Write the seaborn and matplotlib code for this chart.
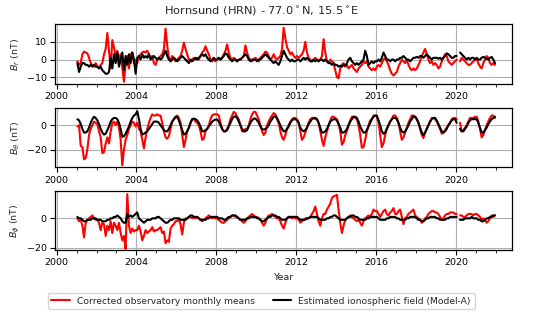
import numpy as np
import pandas as pd
import matplotlib
matplotlib.use("Agg")
import matplotlib.pyplot as plt
from matplotlib.ticker import MultipleLocator
import seaborn as sns

nan = np.nan
years = list(range(2001, 2022))

# Panel 1: B_r (nT) -- corrected observatory monthly means
br_obs = [
    -1, -3, -2, 3, 4.5, 4, 3.5, 1, -2, -3, -4, -2,          # 2001
    -4, -5, -3, -2, 3, 6, 15, 5, -5, 11, 7, 2,              # 2002
    5, 0, 3, -5, -12.5, -3, 2, -5, 3, 4, -2, 0,             # 2003
    -2, 2, 3, 4, 4.5, 4, 5, 3, 1, 2, -2, -3,                # 2004
    0, 1, 2, 3, 6, 17.5, 8, 1, 0, 2, 1, -1,                 # 2005
    0, 1, 2, 5, 9.5, 6, 3, 0, -1, 0, 1, 0,                  # 2006
    1, 0, 2, 4, 5, 7.5, 5, 3, 0, -1, 0, -1,                 # 2007
    0, 1, 0, 1, 3, 5, 8.5, 4, 1, 0, 1, 0,                   # 2008
    -1, 0, 0, 1, 2, 8, 4, 1, 0, -1, 0, 1,                   # 2009
    0, -1, 1, 2, 3, 4.5, 4, 2, 0, 1, 3, 1,                  # 2010
    0, 1, 2, 6, 18, 12, 7, 5, 3, 4, 2, 1,                   # 2011
    2, 1, 2, 3, 5, 10, 4, 1, 0, -1, 0, 1,                   # 2012
    0, -1, 0, 2, 11.5, 4, -1, -2, 0, -1, -2, -6,            # 2013
    -10, -10.5, -5, -3, -2, -4, -3, -5, -4, -3, -5, -6,     # 2014
    -7, -5, -4, -3, -1, -2, -1, -4, -5, -6, -5, -6,         # 2015
    -4, -3, -4, -2, 0, 1, -1, -3, -6, -8, -9, -8,           # 2016
    -7, -4, -2, 0, -1, -2, 0, -3, -5, -6, -5, -6,           # 2017
    -5, -3, -1, 2, 4, 6, 3, 0, -2, -1, -3, -2,              # 2018
    -3, -5, -4, -1, 1, 3, 2, -1, -2, -3, -2, -1,            # 2019
    0, nan, -1, 1, 0, -1, -2, -3, -3, -2, -1, 0,            # 2020
    0, -2, -4, -5, -2, 0, 2, 1, -2, -3, -2, -3,             # 2021
]
# Panel 1: B_r (nT) -- estimated ionospheric field (Model-A)
br_ion = [
    -2, -7, -4, -2, -2, -3, -3, -4, -3, -4, -3, -4,         # 2001
    -4, -5, -4, -6, -7, -8, -8, -7, 1, -5, 3, -2,           # 2002
    4, -4, 0, 4, -6, 2, -3, 3, -2, 4, 0, -8,                # 2003
    1, 2, 0, 3, 1, 2, 1, 3, 0, 1, 2, 1,                     # 2004
    0, 1, 0, 1, 3, 5, 2, 0, -1, 0, 1, 0,                    # 2005
    -1, 0, 1, 2, 1, 0, -1, -2, 0, -1, 0, 1,                 # 2006
    0, 1, 2, 3, 2, 3, 1, 0, -1, 0, 1, 0,                    # 2007
    0, 1, 0, 1, 2, 3.5, 3, 1, 0, -1, 0, 0,                  # 2008
    -1, 0, 0, 1, 2, 3, 2, 0, -1, 0, 0, 0,                   # 2009
    -1, 0, 0, 1, 2, 3, 2, 1, 0, -1, -2, -1,                 # 2010
    -2, -3, -1, 2, 5, 3, 1, 0, -1, 0, -1, -1,               # 2011
    0, 0, -1, 0, 1, 0, 1, 0, -1, -1, 0, -1,                 # 2012
    0, -1, 0, 0, -1, 0, -1, -2, -2, -3, -2, -3,             # 2013
    -3, -4, -3.5, -4, -3, -3.5, -2, 0, 1, -1, -2, -3,       # 2014
    -2, -3, -2, -1, 0, 5, 2, -3, -2, -1, -2, -1,            # 2015
    -1, 0, -1, 1, 4, 2, 0, 0, -1, 0, 0, -1,                 # 2016
    0, 0, 1, 1, 2, 1, 0, 0, -1, 0, 1, 1,                    # 2017
    1.5, 1, 2, 2, 1, 2, 3, 2, 1, 0, 1, 1,                   # 2018
    1, 0.5, 1, 0, 1, 2, 3.5, 3, 2, 1, 1, 2,                 # 2019
    2, nan, 4, 3, 2, 1, 0, 1, 0, 1, 1, 0,                   # 2020
    1, 0, 0, 1, 1.5, 1, 0.5, 0, 1, 1.5, 0, -2,              # 2021
]
# Panel 2: B_theta (nT)
bt_obs = [
    -1, 0, -17, -18, -28, -27, -20, -8, -3, 0, 3, 2,        # 2001
    1, -5, -10, -23, -22, -15, -10, -15, -5, 2, 3, 0,       # 2002
    3, -2, -12, -33, -20, -12, -8, -3, 0, 3, 2, -1,         # 2003
    2, -3, -5, -12, -19, -10, -3, 2, 6, 9, 8, 8,            # 2004
    9, 8, 8, 2, -5, -10, -11, -9, -3, 3, 5, 6,              # 2005
    8, 6, 2, -8, -18, -12, -5, -2, 2, 5, 5, 3,              # 2006
    2, 0, -5, -12, -11, -5, -3, 0, 5, 8, 9, 9,              # 2007
    9, 8, 2, -3, -5, -5, -3, 0, 5, 8, 11, 10,               # 2008
    7, 5, 0, -5, -5, -3, -3, 0, 5, 9, 11, 11,               # 2009
    8, 5, 0, -5, -8, -6, 0, 3, 6, 8, 10, 9,                 # 2010
    5, 2, -5, -10, -12, -8, -3, 0, 3, 5, 6, 6,              # 2011
    5, 2, -5, -12, -10, -6, -2, 2, 5, 6, 6, 5,              # 2012
    5, 2, -5, -12, -17, -10, -5, 0, 4, 7, 7, 6,             # 2013
    5, 1, -5, -16, -14, -8, -5, 0, 4, 7, 7, 6,              # 2014
    5, 0, -8, -18.5, -18, -12, -5, 0, 4, 5, 8, 8,           # 2015
    7, 3, -8, -18, -15, -8, -3, 0, 3, 5, 8, 8,              # 2016
    6, 2, -5, -12, -10, -6, -2, 2, 5, 8, 8, 7,              # 2017
    5, 2, -3, -8, -10.5, -6, -3, 0, 3, 6, 6, 5,             # 2018
    3, 0, -3, -7, -6, -4, -2, 0, 2, 5, 6, 6,                # 2019
    5, nan, 2, -5, -4, -2, 0, 3, 6, 6, 6, 7,                # 2020
    7, 3, -3, -10, -8, -4, 0, 3, 6, 8, 8, 6,                # 2021
]
bt_ion = [
    5, 4, 1, -3, -6, -6, -5, -2, 2, 5, 7, 6,                # 2001
    4, 1, -3, -6, -7.7, -7, -4, -1, 3, 5, 6, 6,             # 2002
    5, 2, -3, -9.6, -9, -7, -4, -1, 3, 6, 8, 9,             # 2003
    11.5, 5, -3, -7.7, -7, -6, -5, -3, -1, 1, 3, 3,         # 2004
    3, 2, 0, -2, -4, -5, -5, -3, 0, 3, 5, 7,                # 2005
    7, 4, 0, -4, -7.7, -7, -5, -2, 2, 5, 5.5, 5,            # 2006
    4, 2, -1, -5, -5, -4, -3, -1, 1, 3, 4, 4.7,             # 2007
    4.7, 3, 0, -3, -5, -5, -4, -1, 2, 5, 7, 7.4,            # 2008
    6, 3, 0, -3, -5, -5, -4, -1, 2, 4, 5.5, 5.5,            # 2009
    4, 2, -1, -3, -3.6, -3, -2, 0, 3, 5, 7, 7.4,            # 2010
    6, 3, 0, -3, -5, -5, -3, -1, 2, 4, 5, 5,                # 2011
    4, 2, -2, -4, -5, -4, -2, 1, 3, 5, 6, 6,                # 2012
    5, 2, -2, -6, -6, -5, -3, 0, 3, 4, 5, 5,                # 2013
    4, 1, -2, -6, -6, -5, -3, 0, 3, 5, 7, 7,                # 2014
    6, 3, -1, -4, -6, -6, -4, -1, 2, 5, 7, 8,               # 2015
    8, 4, 0, -5, -7, -6, -3, 0, 3, 5, 6, 6,                 # 2016
    5, 2, -2, -5, -6, -5, -3, 0, 3, 5, 7, 7,                # 2017
    5, 2, -2, -6, -8, -6, -3, 0, 3, 5, 6, 6,                # 2018
    4, 1, -2, -5, -6, -5, -3, 0, 2, 4, 5, 5,                # 2019
    2, nan, -3, -5, -5, -3, -1, 2, 4, 5, 5, 5,              # 2020
    5, 2, -2, -6, -6, -4, -2, 1, 3, 5, 6, 7,                # 2021
]
# Panel 3: B_phi (nT)
bp_obs = [
    0, -2, -1, -5, -13, -3, -1, 0, 1, 2, 0, -1,             # 2001
    -1, -3, -8, -3, -4, -12, -5, -8, -2, -10, -3, -5,       # 2002
    -8, -3, -10, -15, -12, -21, 16.5, -5, -10, -7, -9, -8,  # 2003
    -8, -5, -9, -15, -12, -8, -10, -9, -8, -6, -9, -8,      # 2004
    -8, -7, -6, -10, -9, -17, -15, -16, -7, -5, -4, -2,     # 2005
    -2, 0, -4, -11, -3, 0, 0, 1, 1, 0, 1, 0,                # 2006
    1, 0, -1, -2, -1, 0, 1, 2, 1, 0, 1, 0,                  # 2007
    0, -1, -2, -3, -3, -2, -1, 0, 1, 2, 2, 1,               # 2008
    1, 0, -1, -2, -3, -2, 0, 1, 2, 3, 2, 1,                 # 2009
    1, 0, -1, -3, -5, -3, 0, 2, 2, 3, 2, 1,                 # 2010
    0, 0, -2, -5, -7, -3, 0, 1, 1, 0, 1, 0,                 # 2011
    0, -1, -3, -2, -1, 0, 0, 0, 1, 3, 5, 8,                 # 2012
    3, -2, -5, 0, 3, 3, 6, 8, 10, 14, 15, 15.5,             # 2013
    16, 6, -3, -10, -5, -1, 0, 1, 2, 1, 0, -1,              # 2014
    -2, -1, -3, -5, -2, 0, 1, 2, 1, 3, 6, 5,                # 2015
    5, 3, 1, 3, 5, 6, 3, 2, 4, 5, 7, 3,                     # 2016
    3, 5, 6, 1, -4, 0, 1, 3, 4, 5, 6, 2,                    # 2017
    1, 0, -1, -3, -2, 0, 1, 3, 4, 5, 5, 4,                  # 2018
    4, 3, 1, -1, 0, 2, 3, 3, 4, 4, 4, 3,                    # 2019
    3, nan, 2, 2, 1, 1, 2, 3, 3, 3, 2, 3,                   # 2020
    3, 2, 1, -1, 0, -1, -3, -2, 0, 2, 1, 2,                 # 2021
]
bp_ion = [
    1, 0, 0, -1, -2, -2, -1, -1, -1, 0, 0, 0,               # 2001
    -1, -1, -1, -2, -2, -2, -1, -1, 0, 0, 1, 1,             # 2002
    2, 1, 0, -2, -3, -3, 3, 1, 2, 1, 2, 3,                  # 2003
    4, 0, -1, -2, -3, -2, -1, -1, -1, 0, 0, 0,              # 2004
    1, 1, 0, -1, -2, -3, -3, -2, -1, -1, 0, 0,              # 2005
    0, 0, -1, -1, -1, -1, 0, 1, 2, 2, 1, 1,                 # 2006
    1, 0, -1, -1, -1, -1, 0, 0, 1, 1, 1, 1,                 # 2007
    1, 0, 0, 0, -1, -1, 0, 1, 1, 2, 2, 2,                   # 2008
    1, 0, -1, -1, -1, -1, 0, 0, 1, 1, 1, 1,                 # 2009
    0, 0, -1, -2, -2, -1, 0, 1, 1, 2, 2, 2,                 # 2010
    1, 1, 0, -1, -1, -1, 0, 1, 1, 1, 1, 1,                  # 2011
    1, 0, -1, -1, -1, -1, 0, 0, 1, 1, 1, 1,                 # 2012
    1, 0, -1, -1, -1, -1, 0, 0, 1, 1, 2, 2,                 # 2013
    1, 0, -1, -1, -1, -1, 0, 1, 1, 2, 2, 1,                 # 2014
    1, 0, -1, -1, -1, -1, 0, 0, 1, 1, 1, 1,                 # 2015
    1, 0, -1, -1, -1, -1, 0, 0, 1, 1, 1, 1,                 # 2016
    0, 0, -1, -1, -1, -1, 0, 0, 1, 1, 1, 1,                 # 2017
    0, -1, -1, -2, -2, -1, 0, 0, 1, 1, 1, 1,                # 2018
    0, 0, -1, -1, -1, -1, 0, 0, 1, 1, 1, 1,                 # 2019
    1, nan, -1, -1, -1, 0, 0, 0, 0, 1, 0, 0,                # 2020
    0, -1, -1, -2, -2, -1, 0, 0, 1, 1, 2, 2,                # 2021
]

ylabels = [r"$B_r$ (nT)", r"$B_\theta$ (nT)", r"$B_\phi$ (nT)"]
title = r"Hornsund (HRN) - 77.0$^\circ$N, 15.5$^\circ$E"
legend_labels = ["Corrected observatory monthly means",
                 "Estimated ionospheric field (Model-A)"]

# decimal-year time axis (mid-month)
t = np.array([y + (m + 0.5) / 12 for y in years for m in range(12)])

sns.set_style("ticks")
plt.rcParams.update({
    "font.family": ["DejaVu Sans"],
    "font.size": 6.8,
    "axes.linewidth": 0.9,
    "axes.edgecolor": "black",
    "xtick.color": "black",
    "ytick.color": "black",
    "grid.color": "#b0b0b0",
    "grid.linewidth": 0.8,
    "xtick.major.size": 3.5,
    "ytick.major.size": 3.5,
    "xtick.minor.size": 2,
    "xtick.direction": "out",
    "ytick.direction": "out",
})

fig = plt.figure(figsize=(5.51, 3.15), dpi=100)
positions = [
    [0.0998, 0.7333, 0.829, 0.1895],
    [0.0998, 0.4689, 0.829, 0.1875],
    [0.0998, 0.2063, 0.829, 0.1880],
]
ylims = [(-13.8, 19.9), (-34.6, 14.0), (-21.6, 18.8)]
ysteps = [10, 20, 20]
pairs = [(br_obs, br_ion), (bt_obs, bt_ion), (bp_obs, bp_ion)]


def draw(ax, values, color, label):
    df = pd.DataFrame({"t": t, "v": np.asarray(values, dtype=float)})
    df["seg"] = df["v"].isna().cumsum()
    df = df.dropna()
    sns.lineplot(data=df, x="t", y="v", units="seg", estimator=None,
                 color=color, linewidth=1.5, ax=ax, label=label, legend=False)


axes = []
for i, (obs, ion) in enumerate(pairs):
    ax = fig.add_axes(positions[i])
    draw(ax, obs, "red", legend_labels[0])
    draw(ax, ion, "black", legend_labels[1])
    ax.set_xlim(1999.92, 2022.8)
    ax.set_ylim(*ylims[i])
    ax.xaxis.set_major_locator(MultipleLocator(4))
    ax.xaxis.set_minor_locator(MultipleLocator(1))
    ax.yaxis.set_major_locator(MultipleLocator(ysteps[i]))
    ax.grid(True, which="major")
    ax.set_ylabel(ylabels[i])
    ax.yaxis.set_label_coords(-0.072, 0.5)
    ax.set_xlabel("")
    ax.tick_params(labelsize=6.8, pad=2.5)
    for s in ax.spines.values():
        s.set_visible(True)
        s.set_color("black")
    axes.append(ax)

axes[-1].set_xlabel("Year", fontsize=6.8, labelpad=4)

fig.suptitle(title, x=0.474, y=0.963, fontsize=8.2, va="center")

handles = [plt.Line2D([], [], color="red", lw=1.5),
           plt.Line2D([], [], color="black", lw=1.5)]
fig.legend(handles, legend_labels, loc="center", bbox_to_anchor=(0.474, 0.044),
           ncol=2, fontsize=6.55, frameon=True, fancybox=True,
           columnspacing=2.0, handlelength=2.0)

fig.savefig("out.png", dpi=100)
